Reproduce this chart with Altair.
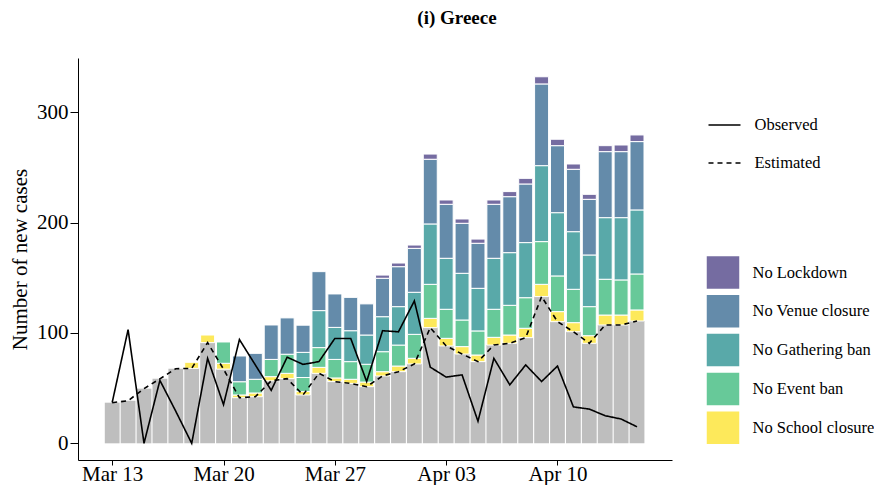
import altair as alt
import pandas as pd

FONT = "Liberation Serif"

# x positions: day index 0 = Mar 13 ... 33 = Apr 15
tick_days = [0, 7, 14, 21, 28]
tick_labels = ["Mar 13", "Mar 20", "Mar 27", "Apr 03", "Apr 10"]

observed = [37, 103, 0, 57, 29, 0, 77, 35, 94, 71, 48, 78, 71.5, 74, 95, 95, 56,
            102, 101, 129, 69, 60, 62, 20, 77, 53, 71, 56, 70, 33, 31, 25, 22, 15]

estimated = [36.8, 38.6, 49.5, 58.4, 67.6, 67.9, 91.2, 67.2, 41.3, 42.2, 56.6, 58.6,
             43.8, 63.4, 55.9, 54.3, 51.3, 61.0, 64.9, 71.9, 104.8, 88.2, 80.9, 74.0,
             89.0, 90.6, 95.7, 132.9, 110.2, 101.1, 90.6, 107.2, 107.2, 110.8]

# cumulative tops of each counterfactual stack
top_school = [36.8, 38.6, 49.5, 58.4, 67.6, 73.4, 98.1, 72.5, 43.8, 45.6, 60.4, 63.4,
              47.0, 68.8, 59.2, 58.0, 55.5, 64.9, 70.0, 77.0, 113.2, 95.1, 87.6, 80.0,
              96.0, 98.1, 104.2, 144.0, 119.3, 109.3, 97.5, 116.2, 116.2, 120.8]
top_event = [36.8, 38.6, 49.5, 58.4, 67.6, 73.4, 98.1, 91.8, 55.8, 58.0, 76.0, 80.7,
             59.6, 86.7, 76.0, 74.0, 71.6, 83.0, 89.0, 98.7, 144.0, 121.4, 111.7, 101.8,
             121.4, 125.0, 131.9, 182.7, 151.6, 139.5, 123.8, 148.6, 148.0, 153.4]
top_gathering = [36.8, 38.6, 49.5, 58.4, 67.6, 73.4, 98.1, 91.8, 55.8, 58.0, 76.0, 80.7,
                 82.4, 120.2, 105.0, 102.0, 98.1, 114.7, 123.8, 136.8, 198.7, 167.6, 154.0, 140.4,
                 167.6, 172.7, 181.8, 251.5, 208.9, 191.7, 170.6, 204.4, 204.4, 211.4]
top_venue = [36.8, 38.6, 49.5, 58.4, 67.6, 73.4, 98.1, 91.8, 79.1, 81.5, 107.2, 113.6,
             107.0, 155.5, 135.3, 132.2, 126.3, 149.5, 160.0, 176.6, 257.3, 216.5, 199.3, 181.2,
             216.5, 223.4, 234.9, 325.5, 269.6, 248.2, 221.0, 264.2, 264.2, 273.3]
top_lockdown = [36.8, 38.6, 49.5, 58.4, 67.6, 73.4, 98.1, 91.8, 79.1, 81.5, 107.2, 113.6,
                107.0, 155.5, 135.3, 132.2, 126.3, 152.4, 163.3, 179.6, 262.0, 220.4, 203.2, 185.0,
                220.4, 228.0, 240.0, 332.0, 275.4, 253.0, 225.5, 269.6, 270.2, 279.3]

scenarios = ["No School closure", "No Event ban", "No Gathering ban",
             "No Venue closure", "No Lockdown"]
legend_order = ["No Lockdown", "No Venue closure", "No Gathering ban",
                "No Event ban", "No School closure"]
legend_colors = ["#756CA1", "#648BAA", "#59A9A9", "#67C999", "#FDE95B"]

# ---- data frames -------------------------------------------------------
days = list(range(len(estimated)))
gray_df = pd.DataFrame({"day": days, "lo": [0.0] * len(days), "hi": estimated})

stacks = [estimated, top_school, top_event, top_gathering, top_venue, top_lockdown]
rows = []
for i in days:
    for k, name in enumerate(scenarios, start=1):
        lo, hi = stacks[k - 1][i], stacks[k][i]
        if hi - lo > 0.05:
            rows.append({"day": i, "scenario": name, "lo": lo, "hi": hi})
seg_df = pd.DataFrame(rows)

line_df = pd.concat([
    pd.DataFrame({"day": days, "value": observed, "series": "Observed"}),
    pd.DataFrame({"day": days, "value": estimated, "series": "Estimated"}),
])

# ---- scales / axes -----------------------------------------------------
xs = alt.Scale(domain=[-2.15, 35.2], nice=False, zero=False)
ys = alt.Scale(domain=[-15.1, 349], nice=False, zero=False)

label_expr = "[" + ",".join("'%s'" % t for t in tick_labels) + "][round(datum.value/7)]"
x_axis = alt.Axis(values=tick_days, labelExpr=label_expr, title=None, grid=False,
                  tickSize=5, labelPadding=15, labelBaseline="alphabetic",
                  labelFontSize=21)
y_axis = alt.Axis(values=[0, 100, 200, 300], title="Number of new cases", grid=False,
                  tickSize=8, labelPadding=2, labelFontSize=21, titleFontSize=21,
                  titleFontWeight="normal", titlePadding=6)

gray = alt.Chart(gray_df).transform_calculate(
    a="datum.day - 0.465", b="datum.day + 0.465"
).mark_bar(color="#BEBEBE").encode(
    x=alt.X("a:Q", scale=xs, axis=x_axis),
    x2="b:Q",
    y=alt.Y("lo:Q", scale=ys, axis=y_axis),
    y2="hi:Q",
)

segs = alt.Chart(seg_df).transform_calculate(
    a="datum.day - 0.44", b="datum.day + 0.44"
).mark_bar(stroke="white", strokeWidth=1).encode(
    x=alt.X("a:Q", scale=xs, axis=x_axis),
    x2="b:Q",
    y=alt.Y("lo:Q", scale=ys, axis=y_axis),
    y2="hi:Q",
    color=alt.Color("scenario:N",
                    scale=alt.Scale(domain=legend_order, range=legend_colors),
                    legend=alt.Legend(title=None, orient="none", legendX=628.5, legendY=198,
                                      symbolType="square", symbolSize=1056,
                                      symbolStrokeWidth=0, symbolOpacity=1,
                                      labelFontSize=16.5, labelFont=FONT, labelColor="black",
                                      labelOffset=13, rowPadding=5.8, padding=0)),
)

lines = alt.Chart(line_df).mark_line(color="black", strokeWidth=1.6).encode(
    x=alt.X("day:Q", scale=xs, axis=x_axis),
    y=alt.Y("value:Q", scale=ys, axis=y_axis),
    strokeDash=alt.StrokeDash("series:N",
                              scale=alt.Scale(domain=["Observed", "Estimated"],
                                              range=[[1, 0], [5, 4]]),
                              legend=alt.Legend(title=None, orient="none", legendX=629.5,
                                                legendY=50, symbolType="stroke",
                                                symbolSize=1024, symbolStrokeWidth=1.5,
                                                symbolStrokeColor="black",
                                                labelFontSize=16.5, labelFont=FONT,
                                                labelColor="black", labelOffset=13,
                                                rowPadding=12, padding=0)),
)

chart = alt.layer(gray, segs, lines).properties(
    width=594,
    height=402,
    padding={"left": 70, "top": 50, "right": 202, "bottom": 25},
    autosize=alt.AutoSizeParams(type="none"),
    title=alt.TitleParams("(i) Greece", font=FONT, fontSize=19, fontWeight="bold",
                          anchor="middle", frame="group", dx=82, offset=30,
                          color="black"),
).configure(font=FONT).configure_view(stroke="transparent", strokeWidth=0).configure_axis(
    labelFont=FONT, titleFont=FONT, labelColor="black", titleColor="black",
    domainColor="black", domainWidth=1, tickColor="black", tickWidth=1,
)

chart.save("out.html", embed_options={"renderer": "svg", "actions": False})
